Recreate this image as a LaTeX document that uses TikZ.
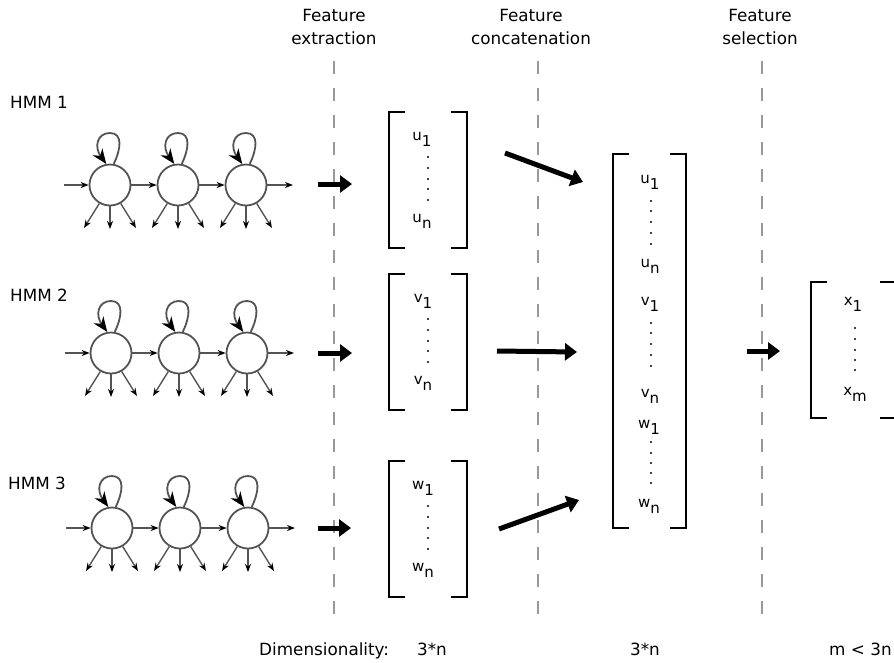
\documentclass[tikz,border=0pt]{standalone}
\usepackage{fontspec}
\setmainfont{DejaVu Sans}
\usetikzlibrary{arrows.meta,calc}
\definecolor{stategray}{gray}{0.33}
\definecolor{guidegray}{gray}{0.6}
\newcommand\vent[2]{#1\raisebox{-6.5pt}{#2}}
\newcommand\labelfont{\fontsize{16.8}{20}\selectfont}
\newcommand\entfont{\fontsize{15}{18}\selectfont}
\begin{document}
\begin{tikzpicture}[x=1pt,y=-1pt,
  state/.style={circle,draw=stategray,line width=1.8pt,minimum size=41pt,inner sep=0pt},
  flow/.style={draw=stategray,line width=1.4pt,-{Stealth[length=8pt,width=6pt,color=black]}},
  selfloop/.style={draw=stategray,line width=1.8pt,-{Stealth[length=15pt,width=12pt,color=black]}},
  bigarrow/.style={line width=5pt,-{Triangle[length=12pt,width=17pt]}},
  guide/.style={draw=guidegray,line width=1.5pt,dash pattern=on 13pt off 14pt},
  vecbox/.style={inner sep=0pt,outer sep=0pt},
  bracket/.style={line width=2pt},
  lbl/.style={font=\labelfont,inner sep=0pt},
  ent/.style={font=\entfont,inner sep=0pt,anchor=base},
  vdot/.style={fill=black},
]
\useasboundingbox (0,0) rectangle (894,662);
\clip (0,0) rectangle (894,662);

% stage guides
\foreach \gx/\gn in {334/g1,538/g2,762/g3}{
  \coordinate (\gn top) at (\gx,61);
  \coordinate (\gn bot) at (\gx,622);
  \draw[guide] (\gn top) -- (\gn bot);
}

% stage titles
\node[lbl,anchor=base] (t1a) at (334,21) {Feature};
\node[lbl,anchor=base] (t1b) at (334,44) {extraction};
\node[lbl,anchor=base] (t2a) at (531,21) {Feature};
\node[lbl,anchor=base] (t2b) at (531,44) {concatenation};
\node[lbl,anchor=base] (t3a) at (760,21) {Feature};
\node[lbl,anchor=base] (t3b) at (760,44) {selection};

% HMM chains
\foreach \r/\y/\dx/\lx/\ly in {1/185/0/10/108,2/353/1/10/301,3/528/2/8/489}{
  \node[lbl,anchor=base west] (hmm\r) at (\lx,\ly) {HMM \r};
  \foreach \c in {1,2,3}{
    \node[state] (s\r\c) at ({110+\dx+68*(\c-1)},\y) {};
  }
  \coordinate (in\r) at (64+\dx,\y);
  \coordinate (out\r) at (293+\dx,\y);
  \draw[flow] (in\r) -- (s\r1);
  \draw[flow] (s\r1) -- (s\r2);
  \draw[flow] (s\r2) -- (s\r3);
  \draw[flow] (s\r3) -- (out\r);
  \foreach \c in {1,2,3}{
    \coordinate (e\r\c-l) at ($(s\r\c)+(-26,43)$);
    \coordinate (e\r\c-m) at ($(s\r\c)+(0,44)$);
    \coordinate (e\r\c-r) at ($(s\r\c)+(26,43)$);
    \coordinate (top\r\c) at ($(s\r\c)+(0,-52)$);
    \draw[flow] (s\r\c.240) -- (e\r\c-l);
    \draw[flow] (s\r\c.270) -- (e\r\c-m);
    \draw[flow] (s\r\c.300) -- (e\r\c-r);
    % self transition: narrow loop above the state
    \draw[selfloop] (s\r\c.80) .. controls ($(s\r\c)+(11,-36)$) and ($(s\r\c)+(13,-52)$) .. (top\r\c)
       .. controls ($(s\r\c)+(-13,-52)$) and ($(s\r\c)+(-16,-38)$) .. (s\r\c.100);
  }
}

% feature vectors
\node[vecbox,minimum width=78pt,minimum height=136pt] (U) at (428,180) {};
\node[vecbox,minimum width=78pt,minimum height=136pt] (V) at (428,342) {};
\node[vecbox,minimum width=78pt,minimum height=136pt] (W) at (428,529) {};
\node[vecbox,minimum width=73pt,minimum height=374pt] (C) at (649.5,341) {};
\node[vecbox,minimum width=85pt,minimum height=136pt] (X) at (853.5,350) {};
\foreach \v in {U,V,W,C,X}{
  \draw[bracket] ($(\v.north west)+(16,0)$) -| (\v.south west) -- ++(16,0);
  \draw[bracket] ($(\v.north east)+(-16,0)$) -| (\v.south east) -- ++(-16,0);
}

% vector entries
\node[ent] (u1) at (422,140) {\vent{u}{1}};
\node[ent] (un) at (422,222) {\vent{u}{n}};
\node[ent] (v1) at (423,302) {\vent{v}{1}};
\node[ent] (vn) at (423,384) {\vent{v}{n}};
\node[ent] (w1) at (423,489) {\vent{w}{1}};
\node[ent] (wn) at (423,571) {\vent{w}{n}};
\foreach \dy in {157,168,179,189,200}{
  \fill[vdot] (428,\dy) circle (1.2pt);
  \fill[vdot] (428,\dy+162) circle (1.2pt);
  \fill[vdot] (428,\dy+349) circle (1.2pt);
}
\node[ent] (cu1) at (650,183) {\vent{u}{1}};
\node[ent] (cun) at (650,267) {\vent{u}{n}};
\node[ent] (cv1) at (650,305) {\vent{v}{1}};
\node[ent] (cvn) at (650,397) {\vent{v}{n}};
\node[ent] (cw1) at (649,428) {\vent{w}{1}};
\node[ent] (cwn) at (649,507) {\vent{w}{n}};
\foreach \dy in {201,211,222,233,244,323,333,344,355,366,442,453,463,473,483}{
  \fill[vdot] (651,\dy) circle (1.2pt);
}
\node[ent] (x1) at (853,305) {\vent{x}{1}};
\node[ent] (xm) at (855,395) {\vent{x}{m}};
\foreach \dy in {328,339,350,360,370}{
  \fill[vdot] (855,\dy) circle (1.2pt);
}

% processing arrows
\coordinate (a1s) at (318,184); \coordinate (a1e) at (352,184);
\coordinate (a2s) at (318,353); \coordinate (a2e) at (352,353);
\coordinate (a3s) at (318,528); \coordinate (a3e) at (351,528);
\coordinate (b1s) at (505,153); \coordinate (b1e) at (583,182);
\coordinate (b2s) at (497,351); \coordinate (b2e) at (577,352);
\coordinate (b3s) at (499,529); \coordinate (b3e) at (579,500);
\coordinate (cs) at (747,351); \coordinate (ce) at (780,351);
\draw[bigarrow] (a1s) -- (a1e);
\draw[bigarrow] (a2s) -- (a2e);
\draw[bigarrow] (a3s) -- (a3e);
\draw[bigarrow] (b1s) -- (b1e);
\draw[bigarrow] (b2s) -- (b2e);
\draw[bigarrow] (b3s) -- (b3e);
\draw[bigarrow] (cs) -- (ce);

% dimensionality row
\node[lbl,anchor=base west] (dim) at (259,655) {Dimensionality:};
\node[lbl,anchor=base] (d1) at (432,655) {3*n};
\node[lbl,anchor=base] (d2) at (645,655) {3*n};
\node[lbl,anchor=base west] (d3) at (829,655) {m < 3n};
\end{tikzpicture}
\end{document}
